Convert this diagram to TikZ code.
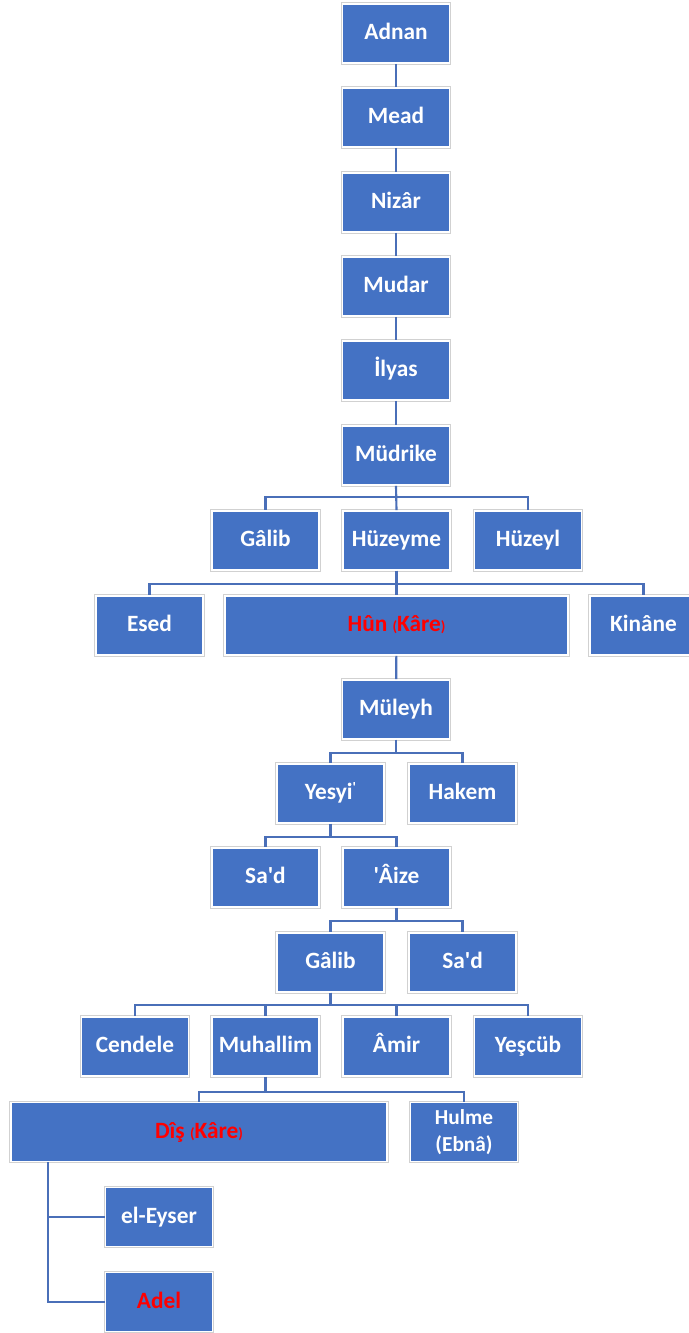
\documentclass[tikz,border=0pt]{standalone}
\usepackage{fontspec}
\setmainfont{Carlito}[Ligatures=TeXOff]
\definecolor{boxblue}{HTML}{4472C4}
\definecolor{linkblue}{HTML}{4A6FB8}
\definecolor{txtred}{HTML}{FF0000}
\def\pxu{0.75pt}
\tikzset{
  famb/.style={rectangle, fill=boxblue, draw=white, line width=1.3pt,
    preaction={draw=black!18, line width=2.6pt},
    text=white, font=\fontsize{17.5}{20}\selectfont\bfseries,
    text height=13pt, text depth=4pt,
    minimum width=107*\pxu, minimum height=59*\pxu, inner sep=0pt, align=center},
  conn/.style={draw=linkblue, line width=1.6pt},
}
\newcommand\smp[1]{{\fontsize{11}{11}\selectfont #1}}
\begin{document}
\begin{tikzpicture}[x=0.75pt,y=-0.75pt]
\useasboundingbox (0,0) rectangle (688,1333);
% top chain
\node[famb] (adnan) at (396,33.5) {Adnan};
\node[famb] (mead) at (396,117.5) {Mead};
\node[famb] (nizar) at (396,202.5) {Nizâr};
\node[famb] (mudar) at (396,286.5) {Mudar};
\node[famb] (ilyas) at (396,370.5) {İlyas};
\node[famb] (mudrike) at (396,455.5) {Müdrike};
% row 7
\node[famb] (galib) at (265.5,540.5) {Gâlib};
\node[famb] (huzeyme) at (396.5,540.5) {Hüzeyme};
\node[famb] (huzeyl) at (528,540.5) {Hüzeyl};
% row 8
\node[famb] (esed) at (149.5,625.5) {Esed};
\node[famb, minimum width=343*\pxu, text=txtred] (hun) at (396.5,625.5) {Hûn \smp{(}Kâre\smp{)}};
\node[famb] (kinane) at (643.5,625.5) {Kinâne};
% row 9
\node[famb] (muleyh) at (396,709.5) {Müleyh};
% row 10
\node[famb] (yesyi) at (330.5,793.5) {Yesyi\raisebox{0.3em}{\smp{'}}};
\node[famb] (hakem) at (462.5,793.5) {Hakem};
% row 11
\node[famb] (sad) at (265.5,877.5) {Sa'd};
\node[famb] (aize) at (396.5,877.5) {'Âize};
% row 12
\node[famb] (galibb) at (330.5,962.5) {Gâlib};
\node[famb] (sadb) at (462.5,962.5) {Sa'd};
% row 13
\node[famb] (cendele) at (135,1046.5) {Cendele};
\node[famb] (muhallim) at (265.5,1046.5) {Muhallim};
\node[famb] (amir) at (396.5,1046.5) {Âmir};
\node[famb] (yescub) at (528,1046.5) {Yeşcüb};
% row 14
\node[famb, minimum width=376*\pxu, text=txtred] (dis) at (199,1132) {Dîş \smp{(}Kâre\smp{)}};
\node[famb, text height={}, text depth={}, font=\fontsize{16}{20}\selectfont\bfseries] (hulme) at (464,1132) {Hulme\\(Ebnâ)};
% last
\node[famb] (eyser) at (159,1217) {el-Eyser};
\node[famb, text=txtred] (adel) at (159,1302) {Adel};
% connectors
\draw[conn] (adnan) -- (mead);
\draw[conn] (mead) -- (nizar);
\draw[conn] (nizar) -- (mudar);
\draw[conn] (mudar) -- (ilyas);
\draw[conn] (ilyas) -- (mudrike);
\draw[conn] (mudrike.south) -- ++(0,11.5) -| (galib.north);
\draw[conn] (mudrike.south) -- (huzeyme.north);
\draw[conn] (mudrike.south) -- ++(0,11.5) -| (huzeyl.north);
\draw[conn] (huzeyme.south) -- ++(0,13) -| (esed.north);
\draw[conn] (huzeyme.south) -- (hun.north);
\draw[conn] (huzeyme.south) -- ++(0,13) -| (kinane.north);
\draw[conn] (hun) -- (muleyh);
\draw[conn] (muleyh.south) -- ++(0,13) -| (yesyi.north);
\draw[conn] (muleyh.south) -- ++(0,13) -| (hakem.north);
\draw[conn] (yesyi.south) -- ++(0,13) -| (sad.north);
\draw[conn] (yesyi.south) -- ++(0,13) -| (aize.north);
\draw[conn] (aize.south) -- ++(0,13) -| (galibb.north);
\draw[conn] (aize.south) -- ++(0,13) -| (sadb.north);
\draw[conn] (galibb.south) -- ++(0,12.5) -| (cendele.north);
\draw[conn] (galibb.south) -- ++(0,12.5) -| (muhallim.north);
\draw[conn] (galibb.south) -- ++(0,12.5) -| (amir.north);
\draw[conn] (galibb.south) -- ++(0,12.5) -| (yescub.north);
\draw[conn] (muhallim.south) -- ++(0,15) -| (dis.north);
\draw[conn] (muhallim.south) -- ++(0,15) -| (hulme.north);
\draw[conn] ([xshift=38*\pxu]dis.south west) |- (eyser.west);
\draw[conn] ([xshift=38*\pxu]dis.south west) |- (adel.west);
\end{tikzpicture}
\end{document}
